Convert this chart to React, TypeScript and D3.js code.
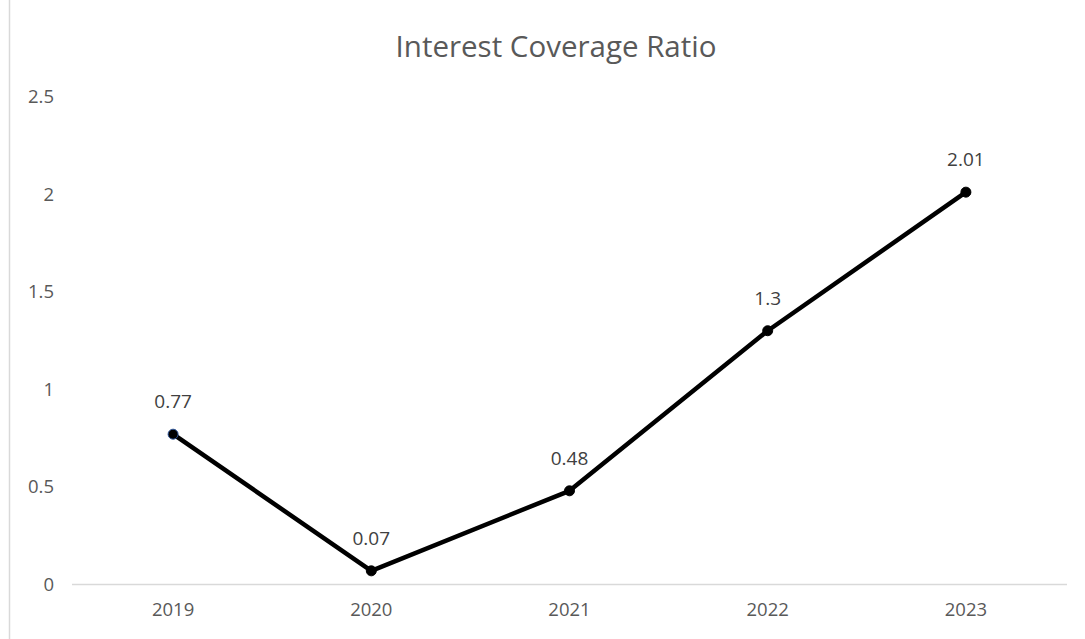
import React from "react";
import * as d3 from "d3";

const categories = ["2019", "2020", "2021", "2022", "2023"];
const values = [0.77, 0.07, 0.48, 1.3, 2.01];
const yTicks = [0, 0.5, 1, 1.5, 2, 2.5];
const title = "Interest Coverage Ratio";

export default function App() {
  const W = 1085, H = 639;
  const left = 74, right = 1065, top = 96.5, bottom = 584.5;
  const x = d3.scaleBand().domain(categories).range([left, right]);
  const y = d3.scaleLinear().domain([0, 2.5]).range([bottom, top]);
  const line = d3.line<number>()
    .x((_, i) => (x(categories[i]) as number) + x.bandwidth() / 2)
    .y((d) => y(d));
  const font = "'Open Sans', sans-serif";
  return (
    <svg width={W} height={H} style={{ position: "absolute", left: 0, top: 0, background: "#fff" }} fontFamily={font}>
      <rect x={0} y={0} width={W} height={H} fill="#fff" />
      <line x1={9.5} x2={9.5} y1={0} y2={H} stroke="#d9d9d9" strokeWidth={1.5} />
      <text x={556} y={57} textAnchor="middle" fontSize={29.5} fill="#595959">{title}</text>
      {yTicks.map((t) => (
        <text key={t} x={54} y={y(t) + 6.5} textAnchor="end" fontSize={18.5} fill="#595959">{t}</text>
      ))}
      <line x1={left - 2} x2={right + 2} y1={bottom} y2={bottom} stroke="#d9d9d9" strokeWidth={1.5} />
      {categories.map((c) => (
        <text key={c} x={(x(c) as number) + x.bandwidth() / 2} y={616} textAnchor="middle" fontSize={18.5} fill="#595959">{c}</text>
      ))}
      <path d={line(values) || ""} fill="none" stroke="#000" strokeWidth={4.5} strokeLinejoin="round" />
      {values.map((v, i) => {
        const cx = (x(categories[i]) as number) + x.bandwidth() / 2;
        return (
          <g key={i}>
            <circle cx={cx} cy={y(v)} r={5} fill="#000" stroke={i === 0 ? "#2f5597" : "#000"} strokeWidth={1} />
            <text x={cx} y={y(v) - 26} textAnchor="middle" fontSize={19} fill="#404040">{v}</text>
          </g>
        );
      })}
    </svg>
  );
}
